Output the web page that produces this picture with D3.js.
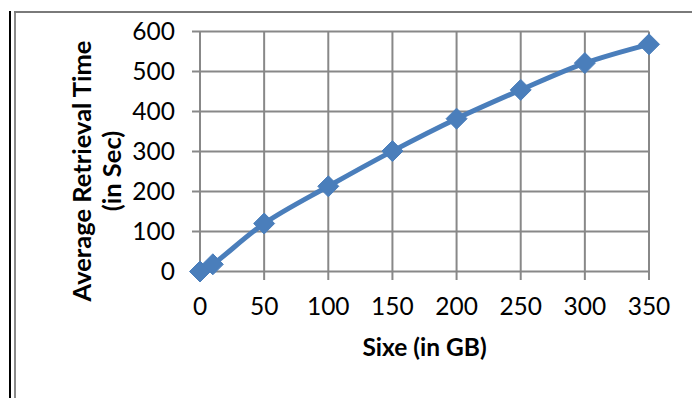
<!DOCTYPE html>
<html><head><meta charset="utf-8">
<script src="https://cdn.jsdelivr.net/npm/d3@7"></script>
<style>
html,body{margin:0;padding:0;background:#fff;}
svg{display:block;}
text{font-family:Lato,"Open Sans",sans-serif;fill:#000;}
</style></head>
<body>
<svg id="chart" width="692" height="398"></svg>
<script>
const sizes = [0, 10, 50, 100, 150, 200, 250, 300, 350];
const times = [0, 18, 120, 213, 301, 382, 454, 521, 568];
const xTicks = [0, 50, 100, 150, 200, 250, 300, 350];
const yTicks = [0, 100, 200, 300, 400, 500, 600];
const xTitle = "Sixe (in GB)";
const yTitle = ["Average Retrieval Time", "(in Sec)"];

const svg = d3.select("#chart");
const W = 692, H = 398;
const L = 200, R = 649, T = 31.5, B = 271.5;
const x = d3.scaleLinear().domain([0, 350]).range([L, R]);
const y = d3.scaleLinear().domain([0, 600]).range([B, T]);
const gridCol = "#888888";

// outer frame
svg.append("line").attr("x1",10).attr("x2",10).attr("y1",11).attr("y2",H).attr("stroke","#000").attr("stroke-width",2);
svg.append("line").attr("x1",15).attr("x2",15).attr("y1",12).attr("y2",H).attr("stroke","#8a8a8a").attr("stroke-width",2);
svg.append("line").attr("x1",14).attr("x2",W).attr("y1",12).attr("y2",12).attr("stroke","#7a7a7a").attr("stroke-width",2);

// grid
const g = svg.append("g");
g.selectAll(".hg").data(yTicks).join("line")
  .attr("x1", L - 8).attr("x2", R)
  .attr("y1", d => y(d)).attr("y2", d => y(d))
  .attr("stroke", gridCol).attr("stroke-width", 2);
g.selectAll(".vg").data(xTicks).join("line")
  .attr("x1", d => x(d)).attr("x2", d => x(d))
  .attr("y1", T).attr("y2", B + 8.5)
  .attr("stroke", gridCol).attr("stroke-width", 2);

// tick labels
svg.selectAll(".yl").data(yTicks).join("text")
  .attr("x", 175).attr("y", d => y(d) + 8)
  .attr("text-anchor", "end").attr("font-size", 24.5)
  .text(d => d);
svg.selectAll(".xl").data(xTicks).join("text")
  .attr("x", d => x(d)).attr("y", 314.5)
  .attr("text-anchor", "middle").attr("font-size", 24.5)
  .text(d => d);

// titles
svg.append("text").attr("x", 424.5).attr("y", 356)
  .attr("text-anchor", "middle").attr("font-size", 24.5).attr("font-weight", "bold")
  .text(xTitle);
const yt = svg.append("text").attr("transform", "translate(0,171) rotate(-90)")
  .attr("text-anchor", "middle").attr("font-size", 25.5).attr("font-weight", "bold");
yt.append("tspan").attr("x", 0).attr("y", 91).text(yTitle[0]);
yt.append("tspan").attr("x", 0).attr("y", 121).text(yTitle[1]);

// line
const data = sizes.map((s, i) => ({s, t: times[i]}));
const line = d3.line().x(d => x(d.s)).y(d => y(d.t)).curve(d3.curveCatmullRom.alpha(0.5));
svg.append("path").datum(data).attr("d", line)
  .attr("fill", "none").attr("stroke", "#4a7ebb").attr("stroke-width", 5)
  .attr("stroke-linejoin", "round");

// markers
svg.selectAll(".mk").data(data).join("path")
  .attr("transform", d => `translate(${x(d.s)},${y(d.t)})`)
  .attr("d", "M0,-10.5L10.5,0L0,10.5L-10.5,0Z")
  .attr("fill", "#4a7ebb").attr("stroke", "#4a7ebb").attr("stroke-width", 1);
</script>
</body></html>
